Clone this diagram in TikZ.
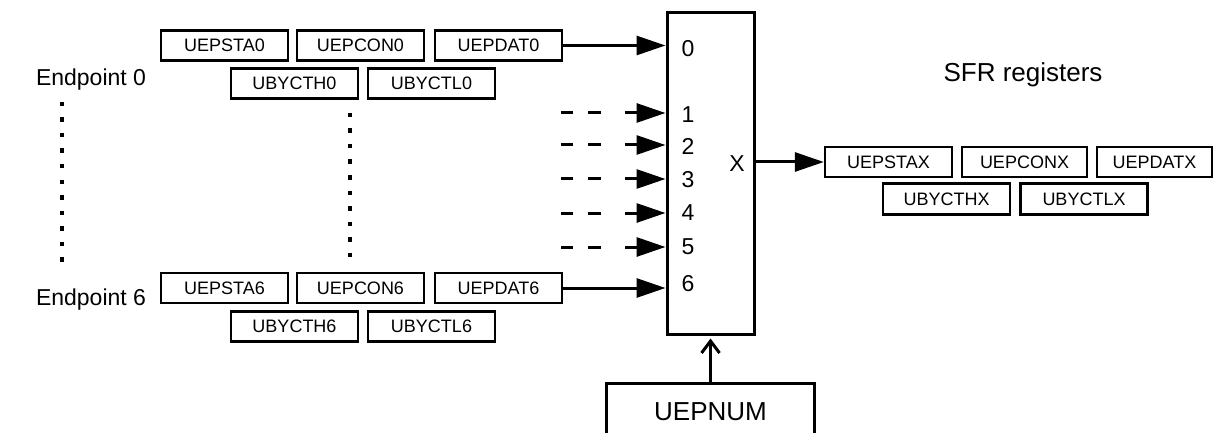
\documentclass[tikz,border=0pt]{standalone}
\usepackage{fontspec}
\setmainfont{Liberation Sans}
\usetikzlibrary{arrows.meta}
\usetikzlibrary{backgrounds,positioning}
\pgfdeclarelayer{edgelayer}
\pgfdeclarelayer{nodelayer}
\pgfsetlayers{background,edgelayer,nodelayer,main}
\tikzstyle{none}=[inner sep=0mm]
\tikzstyle{reg}=[draw=black,line width=2.3pt,minimum width=127pt,minimum height=30pt,inner sep=0pt,font=\fontsize{18}{18}\selectfont]
\tikzstyle{txt}=[inner sep=0mm,font=\fontsize{23}{23}\selectfont]
\tikzstyle{bigtxt}=[inner sep=0mm,font=\fontsize{26}{26}\selectfont]
\tikzstyle{muxbox}=[draw=black,line width=3pt,minimum width=87pt,minimum height=321pt,inner sep=0pt]
\tikzstyle{wire}=[line width=3pt,-{Triangle[length=29pt,width=19pt]}]
\tikzstyle{dwire}=[wire,dash pattern=on 12pt off 15pt on 13pt off 24pt on 20pt]
\tikzstyle{dotline}=[line width=3.2pt,dash pattern=on 4.5pt off 11pt]

\begin{document}
\begin{tikzpicture}[x=10pt,y=10pt]
	\useasboundingbox (0,0) rectangle (121.3,-43.3);
	\begin{pgfonlayer}{nodelayer}
		\node [style=muxbox] (mux) at (71.05, -17.35) {};
		\node [style=txt] (n0) at (68.8, -4.9) {0};
		\node [style=txt] (n1) at (68.8, -11.5) {1};
		\node [style=txt] (n2) at (68.8, -14.6) {2};
		\node [style=txt] (n3) at (68.8, -18.0) {3};
		\node [style=txt] (n4) at (68.8, -21.3) {4};
		\node [style=txt] (n5) at (68.8, -24.7) {5};
		\node [style=txt] (n6) at (68.8, -28.4) {6};
		\node [style=txt] (nx) at (73.7, -16.4) {X};
		% endpoint 0
		\node [style=txt] (ep0) at (9.1, -8.0) {Endpoint 0};
		\node [style=reg] (sta0) at (22.45, -4.55) {UEPSTA0};
		\node [style=reg] (con0) at (36.05, -4.55) {UEPCON0};
		\node [style=reg] (dat0) at (49.85, -4.55) {UEPDAT0};
		\node [style=reg] (cth0) at (29.45, -8.35) {UBYCTH0};
		\node [style=reg] (ctl0) at (43.15, -8.35) {UBYCTL0};
		% endpoint 6
		\node [style=txt] (ep6) at (9.1, -30.0) {Endpoint 6};
		\node [style=reg] (sta6) at (22.45, -28.8) {UEPSTA6};
		\node [style=reg] (con6) at (36.05, -28.8) {UEPCON6};
		\node [style=reg] (dat6) at (49.85, -28.8) {UEPDAT6};
		\node [style=reg] (cth6) at (29.45, -32.65) {UBYCTH6};
		\node [style=reg] (ctl6) at (43.15, -32.65) {UBYCTL6};
		% sfr side
		\node [style=bigtxt] (sfr) at (102.3, -7.5) {SFR registers};
		\node [style=reg] (stax) at (88.85, -16.2) {UEPSTAX};
		\node [style=reg, minimum width=125pt] (conx) at (102.45, -16.2) {UEPCONX};
		\node [style=reg, minimum width=115pt] (datx) at (115.45, -16.2) {UEPDATX};
		\node [style=reg, minimum height=31pt] (cthx) at (94.65, -19.9) {UBYCTHX};
		\node [style=reg, minimum height=31pt] (ctlx) at (108.4, -19.9) {UBYCTLX};
		\node [style=bigtxt, draw=black, line width=3pt, minimum width=208pt, minimum height=57pt] (uepnum) at (71.05, -41.15) {UEPNUM};
		\coordinate (d1) at (56.1, -11.3);
		\coordinate (d2) at (56.1, -14.5);
		\coordinate (d3) at (56.1, -17.9);
		\coordinate (d4) at (56.1, -21.3);
		\coordinate (d5) at (56.1, -24.7);
		\coordinate (l1) at (6.2, -10.2);
		\coordinate (l2) at (6.2, -26.7);
		\coordinate (r1) at (35.0, -11.3);
		\coordinate (r2) at (35.0, -25.8);
	\end{pgfonlayer}
	\begin{pgfonlayer}{edgelayer}
		\draw [style=wire] (dat0) to (dat0 -| mux.west);
		\draw [style=wire] (dat6) to (dat6 -| mux.west);
		\foreach \i in {1,...,5}
			\draw [style=dwire] (d\i) to (d\i -| mux.west);
		\draw [style=wire] (mux.east |- stax) to (stax);
		\draw [line width=3pt, -{Straight Barb[length=12pt,width=18pt]}, shorten >=3pt] (uepnum) to (mux);
		\draw [style=dotline] (l1) to (l2);
		\draw [style=dotline] (r1) to (r2);
	\end{pgfonlayer}
\end{tikzpicture}
\end{document}
